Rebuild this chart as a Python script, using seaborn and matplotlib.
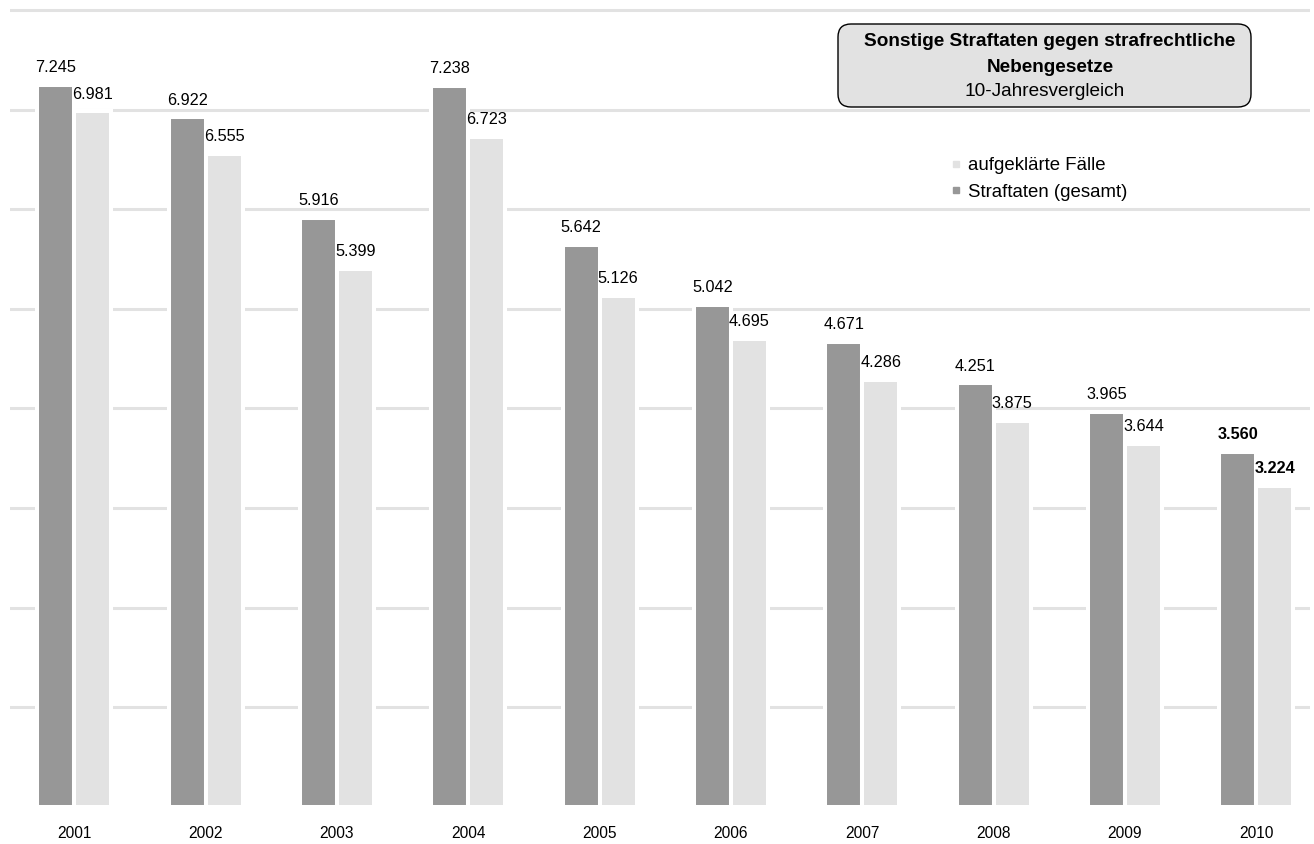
import pandas as pd
import matplotlib.pyplot as plt
import seaborn as sns
from matplotlib.lines import Line2D
from matplotlib.patches import FancyBboxPatch

# --- data ---
years = ['2001', '2002', '2003', '2004', '2005', '2006', '2007', '2008', '2009', '2010']
straftaten = [7245, 6922, 5916, 7238, 5642, 5042, 4671, 4251, 3965, 3560]
aufgeklaert = [6981, 6555, 5399, 6723, 5126, 4695, 4286, 3875, 3644, 3224]

SERIES = ['Straftaten (gesamt)', 'aufgeklärte Fälle']
DARK = '#979797'
LIGHT = '#e2e2e2'

df = pd.DataFrame({
    'Jahr': years * 2,
    'Art': [SERIES[0]] * len(years) + [SERIES[1]] * len(years),
    'Anzahl': straftaten + aufgeklaert,
})

sns.set_style('white')
plt.rcParams['font.family'] = ['Liberation Sans', 'DejaVu Sans']
plt.rcParams['text.color'] = 'black'
plt.rcParams['xtick.color'] = 'black'

fig = plt.figure(figsize=(13.14, 8.44), dpi=100)
ax = fig.add_axes([0.0076, 0.0438, 0.9894, 0.9562])

sns.barplot(data=df, x='Jahr', y='Anzahl', hue='Art', hue_order=SERIES,
            palette=[DARK, LIGHT], width=0.563, edgecolor='white',
            linewidth=2.9, legend=False, ax=ax)

ax.set_xlim(-0.49, 9.41)
ax.set_ylim(0, 8100)
ax.set_yticks(range(1000, 8001, 1000))
ax.yaxis.grid(True, color='#e2e2e2', linewidth=2.2)
ax.xaxis.grid(False)
ax.set_axisbelow(True)
ax.set_yticklabels([])
ax.set_xlabel('')
ax.set_ylabel('')
for s in ax.spines.values():
    s.set_visible(False)
ax.tick_params(axis='both', length=0)
ax.tick_params(axis='x', pad=14, labelsize=11.2, labelcolor='black')

# value labels, last year in bold
for cont in ax.containers:
    for i, bar in enumerate(cont):
        h = bar.get_height()
        txt = f'{int(h):,}'.replace(',', '.')
        ax.annotate(txt, (bar.get_x() + bar.get_width() / 2, h),
                    xytext=(0, 12.5), textcoords='offset points',
                    ha='center', va='center', fontsize=11.7, color='black',
                    fontweight='bold' if i == len(years) - 1 else 'normal')

# title box
box = FancyBboxPatch((838 / 100, (844 - 107) / 100), 4.13, 0.83,
                     boxstyle='round,pad=0,rounding_size=0.13',
                     transform=fig.dpi_scale_trans, facecolor='#e2e2e2',
                     edgecolor='black', linewidth=1.0, zorder=5)
fig.patches.append(box)
fig.text(1050 / 1314, 1 - 42 / 844, 'Sonstige Straftaten gegen strafrechtliche',
         ha='center', va='center', fontsize=13.7, fontweight='bold', zorder=6)
fig.text(1050 / 1314, 1 - 67 / 844, 'Nebengesetze',
         ha='center', va='center', fontsize=13.7, fontweight='bold', zorder=6)
fig.text(1045 / 1314, 1 - 91 / 844, '10-Jahresvergleich',
         ha='center', va='center', fontsize=13.7, zorder=6)

# legend
handles = [
    Line2D([], [], marker='s', linestyle='none', color=LIGHT, markersize=5, label=SERIES[1]),
    Line2D([], [], marker='s', linestyle='none', color=DARK, markersize=5, label=SERIES[0]),
]
ax.legend(handles=handles, loc='upper left', bbox_to_anchor=(941 / 1314, 1 - 148 / 844),
          bbox_transform=fig.transFigure, frameon=False, fontsize=13.4,
          handlelength=0.6, handletextpad=0.35, labelspacing=0.5, borderpad=0,
          labelcolor='black')

fig.savefig('out.png', dpi=100)
